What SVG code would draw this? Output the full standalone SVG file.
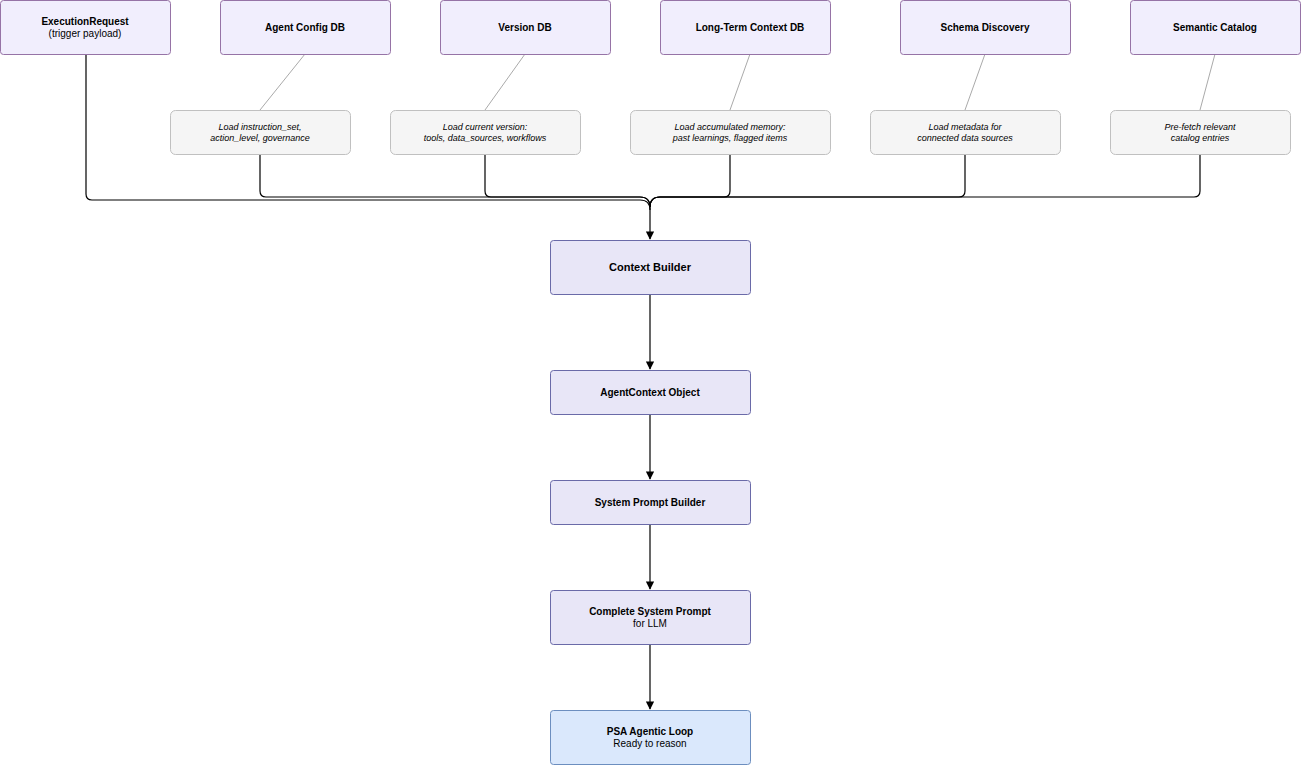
<svg xmlns="http://www.w3.org/2000/svg" width="1301" height="766" viewBox="0 0 1301 766">
<defs>
<style>
text{font-family:"Liberation Sans",Arial,sans-serif;font-size:10px;text-anchor:middle;fill:#000}
.b{font-weight:bold}
.i{font-style:italic;font-size:9px}
.src{fill:#f1eefd;stroke:#9673a6}
.note{fill:#f5f5f5;stroke:#c0c0c0}
.main{fill:#e8e6f7;stroke:#6a6aa8}
.end{fill:#dae8fc;stroke:#6c8ebf}
.c{fill:none;stroke:#000;stroke-width:1.2}
.g{stroke:#aaa;stroke-width:1}
</style>
<marker id="a" viewBox="0 0 10 10" refX="9" refY="5" markerWidth="7" markerHeight="7" orient="auto"><path d="M0,0L10,5L0,10z" fill="#000"/></marker>
</defs>
<rect width="1301" height="766" fill="#fff"/>
<g id="connectors">
<line class="g" x1="305" y1="54" x2="260" y2="110"/>
<line class="g" x1="525" y1="54" x2="485" y2="110"/>
<line class="g" x1="750" y1="54" x2="730" y2="110"/>
<line class="g" x1="985" y1="54" x2="965" y2="110"/>
<line class="g" x1="1215" y1="54" x2="1200" y2="110"/>
<path class="c" d="M86,54V194Q86,200 92,200H640Q650,200 650,210"/>
<path class="c" d="M260,154V191Q260,197 266,197H640Q650,197 650,207"/>
<path class="c" d="M485,154V191Q485,197 491,197H640Q650,197 650,207"/>
<path class="c" d="M730,154V191Q730,197 724,197H660Q650,197 650,207"/>
<path class="c" d="M965,154V191Q965,197 959,197H660Q650,197 650,207"/>
<path class="c" d="M1200,154V191Q1200,197 1194,197H660Q650,197 650,207"/>
<path class="c" d="M650,207V239" marker-end="url(#a)"/>
<path class="c" d="M650,294V369" marker-end="url(#a)"/>
<path class="c" d="M650,414V479" marker-end="url(#a)"/>
<path class="c" d="M650,524V589" marker-end="url(#a)"/>
<path class="c" d="M650,644V709" marker-end="url(#a)"/>
</g>
<g id="exec"><rect class="src" x="0.5" y="0.5" width="170" height="54" rx="3"/><text class="b" x="85" y="25">ExecutionRequest</text><text x="85" y="37">(trigger payload)</text></g>
<g id="agentcfg"><rect class="src" x="220.5" y="0.5" width="170" height="54" rx="3"/><text class="b" x="305" y="31">Agent Config DB</text></g>
<g id="versiondb"><rect class="src" x="440.5" y="0.5" width="170" height="54" rx="3"/><text class="b" x="525" y="31">Version DB</text></g>
<g id="ltc"><rect class="src" x="660.5" y="0.5" width="170" height="54" rx="3"/><text class="b" x="750" y="31">Long-Term Context DB</text></g>
<g id="schema"><rect class="src" x="900.5" y="0.5" width="170" height="54" rx="3"/><text class="b" x="985" y="31">Schema Discovery</text></g>
<g id="semantic"><rect class="src" x="1130.5" y="0.5" width="170" height="54" rx="3"/><text class="b" x="1215" y="31">Semantic Catalog</text></g>
<g id="n1"><rect class="note" x="170.5" y="110.5" width="180" height="44" rx="5"/><text class="i" x="260" y="130">Load instruction_set,</text><text class="i" x="260" y="141">action_level, governance</text></g>
<g id="n2"><rect class="note" x="390.5" y="110.5" width="190" height="44" rx="5"/><text class="i" x="485" y="130">Load current version:</text><text class="i" x="485" y="141">tools, data_sources, workflows</text></g>
<g id="n3"><rect class="note" x="630.5" y="110.5" width="200" height="44" rx="5"/><text class="i" x="730" y="130">Load accumulated memory:</text><text class="i" x="730" y="141">past learnings, flagged items</text></g>
<g id="n4"><rect class="note" x="870.5" y="110.5" width="190" height="44" rx="5"/><text class="i" x="965" y="130">Load metadata for</text><text class="i" x="965" y="141">connected data sources</text></g>
<g id="n5"><rect class="note" x="1110.5" y="110.5" width="180" height="44" rx="5"/><text class="i" x="1200" y="130">Pre-fetch relevant</text><text class="i" x="1200" y="141">catalog entries</text></g>
<g id="ctx"><rect class="main" x="550.5" y="240.5" width="200" height="54" rx="3"/><text class="b" x="650" y="271" style="font-size:11px">Context Builder</text></g>
<g id="aco"><rect class="main" x="550.5" y="370.5" width="200" height="44" rx="3"/><text class="b" x="650" y="396">AgentContext Object</text></g>
<g id="spb"><rect class="main" x="550.5" y="480.5" width="200" height="44" rx="3"/><text class="b" x="650" y="506">System Prompt Builder</text></g>
<g id="csp"><rect class="main" x="550.5" y="590.5" width="200" height="54" rx="3"/><text class="b" x="650" y="615">Complete System Prompt</text><text x="650" y="627">for LLM</text></g>
<g id="psa"><rect class="end" x="550.5" y="710.5" width="200" height="54" rx="3"/><text class="b" x="650" y="735">PSA Agentic Loop</text><text x="650" y="747">Ready to reason</text></g>
</svg>
